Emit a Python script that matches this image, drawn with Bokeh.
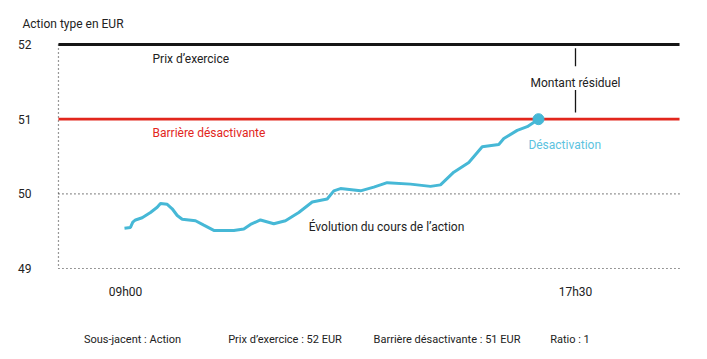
from bokeh.plotting import figure
from bokeh.models import Label, Range1d, FixedTicker, LinearAxis, Title
from bokeh.embed import file_html
from bokeh.resources import INLINE

# ---- data ----
hours = [8.981, 9.094, 9.138, 9.189, 9.315, 9.472, 9.599, 9.661, 9.788, 9.882,
         9.977, 10.071, 10.322, 10.479, 10.668, 11.046, 11.235, 11.361, 11.550, 11.801,
         12.022, 12.273, 12.527, 12.810, 12.935, 13.061, 13.439, 13.690, 13.943, 14.383,
         14.761, 14.950, 15.201, 15.485, 15.738, 16.051, 16.146, 16.399, 16.588, 16.801]
price = [49.54, 49.55, 49.62, 49.65, 49.68, 49.75, 49.82, 49.87, 49.86, 49.80,
         49.71, 49.66, 49.64, 49.58, 49.51, 49.51, 49.53, 49.59, 49.65, 49.60,
         49.64, 49.75, 49.89, 49.93, 50.04, 50.07, 50.04, 50.09, 50.15, 50.13,
         50.10, 50.12, 50.29, 50.42, 50.63, 50.66, 50.74, 50.85, 50.90, 51.00]
strike = 52
barrier = 51
grid_levels = [49, 50]
y_ticks = [49, 50, 51, 52]
x_ticks = [9, 17.5]
x_tick_labels = ["09h00", "17h30"]
footer = ["Sous-jacent : Action", "Prix d\u2019exercice : 52 EUR",
          "Barri\u00e8re d\u00e9sactivante : 51 EUR", "Ratio : 1"]
title_text = "Action type en EUR"

FONT = "Roboto"
DARK = "#222222"
BLUE = "#46b8d6"
RED = "#e2261c"

x0, x1 = 7.734, 19.465
footer_pos = [9.132, 12.013, 15.073, 17.396]  # label centres along the time axis

p = figure(width=700, height=352, output_backend="svg", toolbar_location=None,
           x_range=Range1d(7.659, 19.540), y_range=Range1d(48.9464, 52.0536),
           min_border_left=54, min_border_right=17, min_border_top=40, min_border_bottom=80)
p.outline_line_color = None
p.grid.visible = False
p.background_fill_color = "white"

# title
p.add_layout(Title(text=title_text, align="left", offset=-32, standoff=20,
                   text_font=FONT, text_font_size="12px", text_font_style="normal",
                   text_color=DARK), "above")

# axes
p.yaxis.ticker = FixedTicker(ticks=y_ticks)
p.yaxis.axis_line_color = None
p.yaxis.major_tick_line_color = None
p.yaxis.minor_tick_line_color = None
p.yaxis.major_label_standoff = 17
p.yaxis.major_label_text_font = FONT
p.yaxis.major_label_text_font_size = "12px"
p.yaxis.major_label_text_color = DARK

p.xaxis.ticker = FixedTicker(ticks=x_ticks)
p.xaxis.major_label_overrides = {t: l for t, l in zip(x_ticks, x_tick_labels)}
p.xaxis.axis_line_color = None
p.xaxis.major_tick_line_color = None
p.xaxis.minor_tick_line_color = None
p.xaxis.major_label_standoff = 6
p.xaxis.major_label_text_font = FONT
p.xaxis.major_label_text_font_size = "12px"
p.xaxis.major_label_text_color = DARK

# footer as a second, line-less axis
fax = LinearAxis(ticker=FixedTicker(ticks=footer_pos),
                 major_label_overrides={t: l for t, l in zip(footer_pos, footer)},
                 axis_line_color=None, major_tick_line_color=None, minor_tick_line_color=None,
                 major_label_standoff=25, major_label_text_font=FONT,
                 major_label_text_font_size="11px", major_label_text_color=DARK)
p.add_layout(fax, "below")

# dotted grid + left dotted line
p.segment(x0=[x0] * len(grid_levels), x1=[x1] * len(grid_levels), y0=grid_levels, y1=grid_levels,
          line_color="#333333", line_width=1.2, line_dash="1 3")
p.segment(x0=[x0], x1=[x0], y0=[strike], y1=[grid_levels[0]],
          line_color="#333333", line_width=1.2, line_dash="1 3")

# strike & barrier
p.segment(x0=[x0], x1=[x1], y0=[strike], y1=[strike], line_color="#151515", line_width=3)
p.segment(x0=[x0], x1=[x1], y0=[barrier], y1=[barrier], line_color=RED, line_width=2.6)

# residual amount marker
p.segment(x0=[17.5, 17.5], x1=[17.5, 17.5], y0=[51.95, 51.39], y1=[51.71, 51.09],
          line_color="#151515", line_width=1.3)

# price path
p.line(hours, price, line_color=BLUE, line_width=3)
p.scatter([hours[-1]], [price[-1]], size=11, color=BLUE)

def lab(x, y, t, color=DARK, align="left", size="12px"):
    p.add_layout(Label(x=x, y=y, text=t, text_font=FONT, text_font_size=size,
                       text_color=color, text_align=align, text_baseline="middle"))

lab(9.51, 51.81, "Prix d\u2019exercice")
lab(9.51, 50.82, "Barri\u00e8re d\u00e9sactivante", color=RED)
lab(17.5, 51.49, "Montant r\u00e9siduel", align="center")
lab(16.61, 50.66, "D\u00e9sactivation", color="#5cc3e0")
lab(12.46, 49.55, "\u00c9volution du cours de l\u2019action")

open("out.html", "w").write(file_html(p, INLINE))
